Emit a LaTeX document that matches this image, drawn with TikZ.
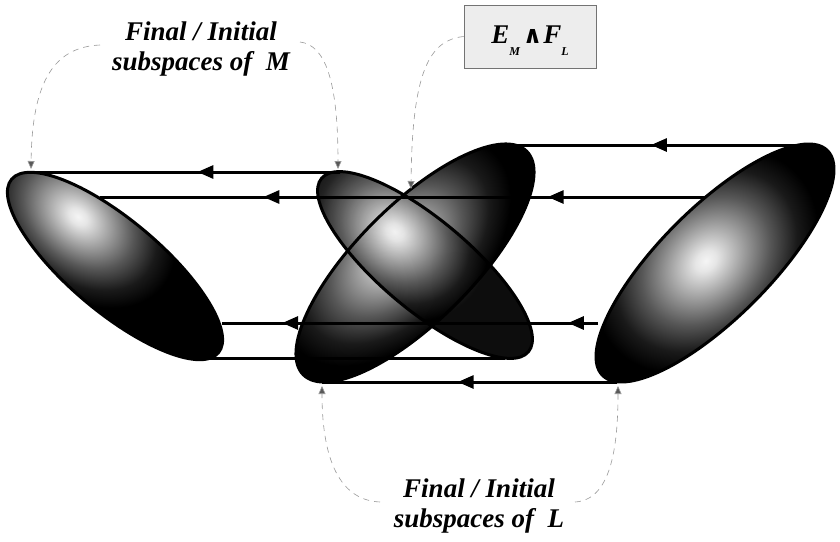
\documentclass[tikz,border=0pt]{standalone}
\usepackage{fontspec}
\setmainfont{Liberation Serif}
\newfontfamily\wedgefont{DejaVu Serif}
\usetikzlibrary{arrows.meta,decorations.markings}
\pgfdeclareradialshading{glow}{\pgfpoint{0bp}{0bp}}{color(0bp)=(black!4); color(1bp)=(black!10); color(3.5bp)=(black!38); color(6bp)=(black!66); color(8.5bp)=(black!90); color(10.5bp)=(black); color(50bp)=(black)}
\newcommand\myoval[9]{%
  \begin{scope}[transform canvas={shift={(#1,#2)},rotate=#3}]
    \clip (0,0) ellipse (#4 and #5);
    \shade[shading=glow] (#6,#7) ellipse ({2*#8} and {2*#9});
  \end{scope}}
\tikzset{
  outline/.style={draw=black, line width=3pt},
  mline/.style={draw=black, line width=3pt},
  midtip/.style={postaction={decorate,decoration={markings,mark=at position #1 with {\arrow{Triangle[length=16pt,width=13pt]}}}}},
  pointer/.style={draw=black!40, line width=0.6pt, dash pattern=on 6pt off 5pt, -{Triangle[length=8pt,width=7pt,fill=black!65]}, shorten >=1pt},
  lbl/.style={font=\fontsize{27}{30}\selectfont\bfseries\itshape, align=center, inner sep=0pt},
  ebox/.style={draw=black!55, line width=0.8pt, fill=black!7, minimum width=132pt, minimum height=63pt, inner sep=0pt, text height=26pt, text depth=13pt, font=\fontsize{27}{30}\selectfont\bfseries\itshape}
}
\begin{document}
\begin{tikzpicture}[x=1pt,y=-1pt]
\fill[white] (0,0) rectangle (840,541);
\useasboundingbox (0,0) rectangle (840,541);

% shaded ovals
\myoval{115}{266}{-40}{135}{46}{-60}{-14}{130}{90}
\myoval{715}{263}{45}{159}{55}{-5}{-8}{150}{115}
\myoval{415}{263}{45}{158}{58}{-5}{-22}{165}{100}
\begin{scope}[opacity=0.95]
\myoval{425}{265}{-40}{135}{45}{-45}{-6}{120}{95}
\end{scope}

% outlines
\draw[outline, rotate around={-40:(115,266)}] (115,266) ellipse (135 and 46);
\draw[outline, rotate around={45:(715,263)}] (715,263) ellipse (159 and 55);
\draw[outline, rotate around={45:(415,263)}] (415,263) ellipse (158 and 58);
\draw[outline, rotate around={-40:(425,265)}] (425,265) ellipse (135 and 45);

% end points of the mappings
\coordinate (m1top) at (30,172);
\coordinate (m2top) at (340,172);
\coordinate (l1top) at (506,145);
\coordinate (l2top) at (808,145);
\coordinate (l2e1) at (705,197);
\coordinate (m1e1) at (100,197);
\coordinate (l2e2) at (598,323);
\coordinate (m1e2) at (222,323);
\coordinate (m2b) at (505,358);
\coordinate (m1b) at (190,358);
\coordinate (l2b) at (617,382);
\coordinate (l1b) at (322,382);
\coordinate (cross) at (411,190);

% mapping lines
\draw[mline, midtip=0.52] (l2top) -- (l1top);
\draw[mline, midtip=0.46] (m2top) -- (m1top);
\draw[mline, midtip=0.26, midtip=0.73] (l2e1) -- (m1e1);
\draw[mline, midtip=0.08, midtip=0.84] (l2e2) -- (m1e2);
\draw[mline] (m2b) -- (m1b);
\draw[mline, midtip=0.54] (l2b) -- (l1b);

% labels
\node[lbl] (lblM) at (201,49) {Final / Initial\\subspaces of~ M};
\node[lbl] (lblL) at (479,506) {Final / Initial\\subspaces of~ L};
\node[ebox] (lblE) at (530,36.5) {E\raisebox{-12pt}{\fontsize{12}{12}\selectfont M}\hspace{3pt}{\wedgefont\fontsize{24}{24}\selectfont\bfseries ∧}\hspace{1pt}F\raisebox{-12pt}{\fontsize{12}{12}\selectfont L}};

% pointers
\coordinate (pmA) at (100,45);
\coordinate (pmB) at (300,42);
\coordinate (pmAt) at (31,170);
\coordinate (pmBt) at (338,170);
\coordinate (plA) at (380,502);
\coordinate (plB) at (575,502);
\coordinate (plAt) at (322,385);
\coordinate (plBt) at (618,385);
\draw[pointer] (pmA) .. controls (55,47) and (32,80) .. (pmAt);
\draw[pointer] (pmB) .. controls (325,45) and (338,80) .. (pmBt);
\draw[pointer] (lblE.west) .. controls (430,40) and (412,70) .. (cross);
\draw[pointer] (plA) .. controls (335,500) and (322,450) .. (plAt);
\draw[pointer] (plB) .. controls (610,500) and (618,450) .. (plBt);
\end{tikzpicture}
\end{document}
